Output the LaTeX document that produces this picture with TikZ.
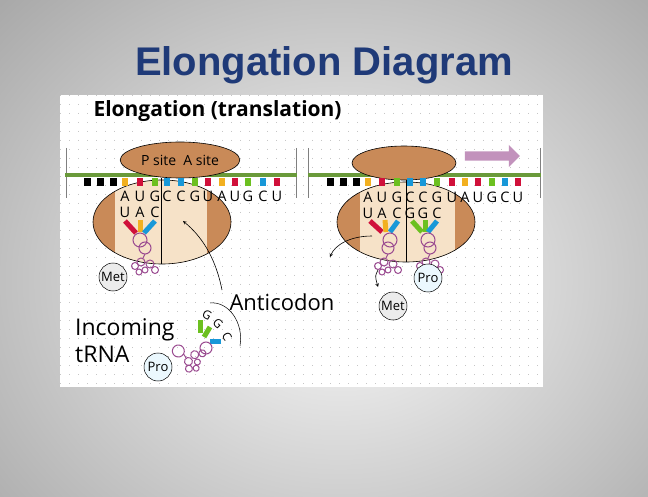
\documentclass[tikz,border=0pt]{standalone}
\usepackage{fontspec}
\setmainfont{Open Sans}
\newfontfamily\titlefont{Liberation Sans}
\usetikzlibrary{shapes.geometric,shapes.arrows,decorations.pathreplacing}
\definecolor{ribo}{HTML}{C98A58}
\definecolor{ribolight}{HTML}{F6E2C8}
\definecolor{mgreen}{HTML}{6A9A3A}
\definecolor{bA}{HTML}{F2B020}
\definecolor{bU}{HTML}{D0103A}
\definecolor{bG}{HTML}{6CC020}
\definecolor{bC}{HTML}{1898D8}
\definecolor{trna}{HTML}{9A4A90}
\definecolor{titleblue}{HTML}{1F3A78}
\tikzset{
  base/.style={draw=black,line width=0.6pt},
  nt/.style={font=\fontsize{14.5}{14.5}\selectfont,inner sep=0pt},
  aa/.style={circle,draw=black,line width=0.5pt,minimum size=28pt,inner sep=0pt,font=\fontsize{13}{13}\selectfont},
  arm/.style={line width=5pt},
  loop/.style={draw=trna,line width=1pt},
  pics/tangle/.style={code={
    \draw[loop] (0,-10) circle (6pt);
    \draw[loop] (-4,4) circle (4pt);
    \draw[loop] (5,6) circle (4pt);
    \draw[loop] (-10,8) circle (3.5pt);
    \draw[loop] (10,12) circle (3.5pt);
    \draw[loop] (0,12) circle (3pt);
    \draw[loop] (-6,14) circle (3pt);
    \draw[loop] (0,-4) -- (-2,0);
  }}
}
\begin{document}
\begin{tikzpicture}[x=1pt,y=-1pt]
\useasboundingbox (0,0) rectangle (648,497);
\shade[inner color=gray!3,outer color=gray!80] (-220,-200) rectangle (900,760);
\node[font=\titlefont\bfseries\fontsize{40}{40}\selectfont,text=titleblue] (title) at (324,65) {Elongation Diagram};
% panel
\fill[white] (60,95) rectangle (543,387);
\begin{scope}
\clip (60,95) rectangle (543,387);
\foreach \i in {0,...,54}{\draw[gray!45,line width=0.5pt,dash pattern=on 0.8pt off 8.2pt] (60+\i*9,95) -- (60+\i*9,387);}
\end{scope}
\node[anchor=west,font=\bfseries\fontsize{21}{21}\selectfont] (head) at (90,111) {Elongation (translation)};
% ---------- left ----------
\draw[gray,line width=0.8pt] (66,148) -- (66,198) (296,148) -- (296,198);
\node[ellipse,fill=ribo,minimum width=138pt,minimum height=84pt] (bigL) at (162,222) {};
\begin{scope}
\clip (162,222) ellipse (69pt and 42pt);
\fill[ribolight] (115,175) rectangle (207,270);
\end{scope}
\draw[base] (162,222) ellipse (69pt and 42pt);
\draw[black,line width=0.6pt] (161,178) -- (161,264);
\draw[mgreen,line width=4pt] (65,175) -- (297,175);
\node[ellipse,base,fill=ribo,minimum width=98pt,minimum height=36pt,font=\fontsize{14}{14}\selectfont] (topL) at (180,160) {P site\ \ A site};
\foreach \x in {87,100,113}{\fill[black] (\x-3.5,178) rectangle (\x+3.5,186);}
\foreach \x/\c/\l [count=\k] in {125/bA/A,140/bU/U,155/bG/G,167/bC/C,181/bC/C,195/bG/G,208/bU/U,222/bA/A,235/bU/U,248/bG/G,263/bC/C,277/bU/U}{
  \fill[\c] (\x-3,178) rectangle (\x+3,186);
  \node[nt] (lt\k) at (\x,196) {\l};}
\node[nt] (lb1) at (125,212) {U};
\node[nt] (lb2) at (140,212) {A};
\node[nt] (lb3) at (155,212) {C};
\draw[arm,bU] (125,221) -- (136,233);
\draw[arm,bA] (140,220) -- (140,232);
\draw[arm,bC] (155,221) -- (144,233);
\draw[loop] (140,240) circle (7pt);
\pic at (145,258) {tangle};
\node[aa,fill=gray!15] (met1) at (113,277) {Met};
\node[font=\fontsize{22}{22}\selectfont,anchor=west] (anti) at (226,302) {Anticodon};
\coordinate (antiTip) at (183,221);
\draw[-stealth,line width=0.6pt] (222,290) .. controls (215,255) and (200,235) .. (antiTip);
\node[font=\fontsize{23}{27}\selectfont,anchor=north west,align=left,inner sep=0pt] (inc) at (75,318) {Incoming\\tRNA};
% incoming tRNA
\draw[arm,bG] (200,320) -- (200,333);
\draw[arm,bG] (210,327) -- (204,337);
\draw[arm,bC] (221,341) -- (210,341);
\draw[loop] (206,348) circle (6pt);
\pic[rotate=60] at (187,356) {tangle};
\node[aa,fill=cyan!8] (pro1) at (158,367) {Pro};
\node[nt,rotate=-30,font=\fontsize{12}{12}\selectfont] (g1) at (207,315) {G};
\node[nt,rotate=-45,font=\fontsize{12}{12}\selectfont] (g2) at (218,324) {G};
\node[nt,rotate=-60,font=\fontsize{12}{12}\selectfont] (c1) at (227,337) {C};
\draw[line width=0.5pt] (210,303) .. controls (228,301) and (244,322) .. (240,346);
% ---------- right ----------
\draw[gray,line width=0.8pt] (308,148) -- (308,198) (540,148) -- (540,198);
\node[ellipse,fill=ribo,minimum width=138pt,minimum height=80pt] (bigR) at (406,222) {};
\begin{scope}
\clip (406,222) ellipse (69pt and 40pt);
\fill[ribolight] (360,175) rectangle (455,270);
\end{scope}
\draw[base] (406,222) ellipse (69pt and 40pt);
\draw[black,line width=0.6pt] (406,178) -- (406,262);
\draw[mgreen,line width=4pt] (308,175) -- (541,175);
\node[ellipse,base,fill=ribo,minimum width=104pt,minimum height=34pt] (topR) at (404,163) {};
\node[single arrow,fill=trna!60,minimum height=55pt,minimum width=22pt,single arrow head extend=3pt,inner sep=2pt] (move) at (490,156) {};
\foreach \x in {330,343,356}{\fill[black] (\x-3.5,178) rectangle (\x+3.5,186);}
\foreach \x/\c/\l [count=\k] in {368/bA/A,382/bU/U,397/bG/G,410/bC/C,423/bC/C,437/bG/G,452/bU/U,465/bA/A,478/bU/U,492/bG/G,505/bC/C,518/bU/U}{
  \fill[\c] (\x-3,178) rectangle (\x+3,186);
  \node[nt] (rt\k) at (\x,197) {\l};}
\foreach \x/\l [count=\k] in {368/U,382/A,397/C,410/G,423/G,437/C}{\node[nt] (rb\k) at (\x,213) {\l};}
\draw[arm,bU] (370,221) -- (382,232);
\draw[arm,bA] (385,220) -- (386,232);
\draw[arm,bC] (398,221) -- (390,232);
\draw[loop] (390,240) circle (7pt);
\pic at (388,258) {tangle};
\draw[arm,bG] (412,221) -- (422,232);
\draw[arm,bG] (425,220) -- (425,232);
\draw[arm,bC] (437,221) -- (428,232);
\draw[loop] (428,240) circle (7pt);
\pic at (430,258) {tangle};
\node[aa,fill=cyan!8] (pro2) at (428,278) {Pro};
\node[aa,fill=gray!15] (met2) at (393,306) {Met};
\coordinate (exitS) at (372,236);
\coordinate (exitT) at (330,257);
\draw[-stealth,line width=0.6pt] (exitS) .. controls (350,236) and (335,245) .. (exitT);
\coordinate (dS) at (378,270);
\coordinate (dT) at (378,287);
\draw[-stealth,line width=0.6pt] (dS) .. controls (375,276) .. (dT);
\end{tikzpicture}
\end{document}
